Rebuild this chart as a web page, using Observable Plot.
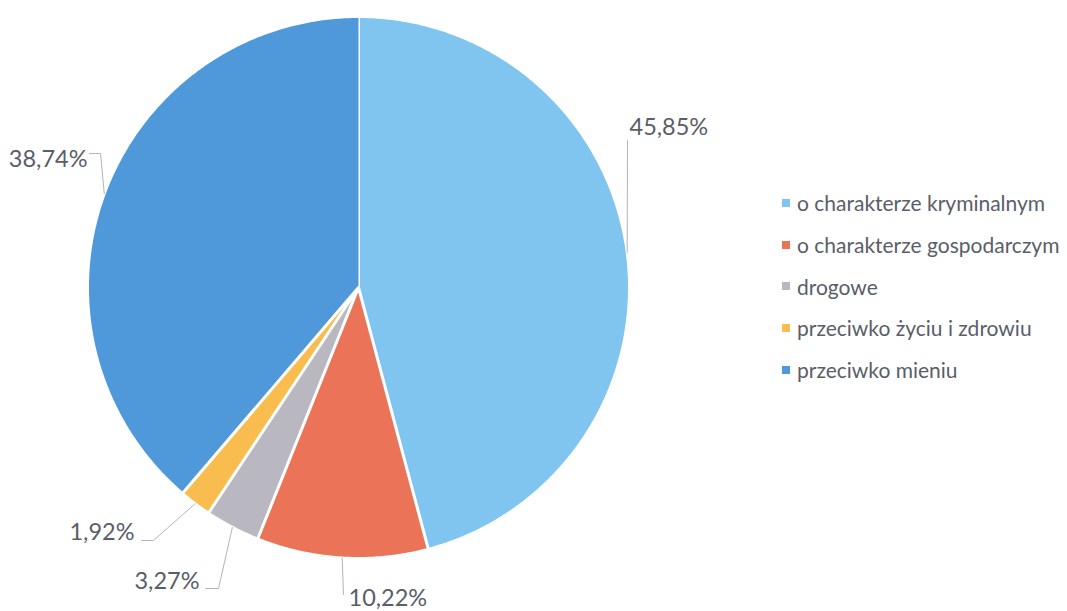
<!DOCTYPE html>
<html><head><meta charset="utf-8">
<script src="https://cdn.jsdelivr.net/npm/d3@7"></script>
<script src="https://cdn.jsdelivr.net/npm/@observablehq/plot@0.6"></script>
<style>
html,body{margin:0;padding:0;background:#fff;}
#wrap{position:relative;width:1067px;height:611px;overflow:hidden;background:#fff;}
#legend{position:absolute;left:782px;top:182px;}
#legend [class$="-swatch"]{height:41.7px !important;padding:0 !important;margin:0 !important;display:flex !important;align-items:center !important;white-space:nowrap;}
#legend svg{margin-right:7px !important;}
</style></head><body><div id="wrap"></div>
<script>
// ---- data ----
const categories = ["o charakterze kryminalnym", "o charakterze gospodarczym", "drogowe", "przeciwko życiu i zdrowiu", "przeciwko mieniu"];
const values = [45.85, 10.22, 3.27, 1.92, 38.74];
const valueLabels = ["45,85%", "10,22%", "3,27%", "1,92%", "38,74%"];
const colors = ["#7fc5ef", "#eb7458", "#b9b8c0", "#f8bd4e", "#4f98d9"];

// ---- layout (pixels) ----
const W = 1067, H = 611, cx = 358, cy = 287, R = 271;
// label placement: elbow points and text anchor (pixel coordinates), per category
const labelLayout = [
  {path: [[627, 140]], text: [629, 127], anchor: "start"},
  {path: [[343, 594]], text: [348, 598], anchor: "start"},
  {path: [[218, 588], [205, 588]], text: [199, 581], anchor: "end"},
  {path: [[153, 540], [141, 540]], text: [134, 532], anchor: "end"},
  {path: [[100, 153], [89, 153]], text: [87, 159], anchor: "end"}
];
const toX = px => (px - cx) / R, toY = py => (cy - py) / R;

// slices as polygons in unit space
const total = d3.sum(values);
const slices = [];
const leaders = [];
const labels = [];
let cum = 0;
values.forEach((v, i) => {
  const a0 = 2 * Math.PI * cum / total, a1 = 2 * Math.PI * (cum + v) / total;
  const n = Math.max(2, Math.ceil((a1 - a0) / (Math.PI / 360)));
  slices.push({cat: categories[i], x: 0, y: 0});
  for (let j = 0; j <= n; j++) {
    const a = a0 + (a1 - a0) * j / n;
    slices.push({cat: categories[i], x: Math.sin(a), y: Math.cos(a)});
  }
  const am = (a0 + a1) / 2;
  leaders.push({id: i, x: Math.sin(am), y: Math.cos(am)});
  labelLayout[i].path.forEach(p => leaders.push({id: i, x: toX(p[0]), y: toY(p[1])}));
  labels.push({text: valueLabels[i], x: toX(labelLayout[i].text[0]), y: toY(labelLayout[i].text[1]), anchor: labelLayout[i].anchor});
  cum += v;
});

const plot = Plot.plot({
  width: W, height: H, margin: 0,
  style: {background: "transparent", fontFamily: "Lato, 'Open Sans', sans-serif"},
  x: {domain: [-1, 1], range: [cx - R, cx + R], axis: null},
  y: {domain: [-1, 1], range: [cy + R, cy - R], axis: null},
  color: {type: "ordinal", domain: categories, range: colors},
  marks: [
    Plot.line(slices, {x: "x", y: "y", z: "cat", fill: "cat", stroke: "#fff", strokeWidth: 3, strokeLinejoin: "round"}),
    Plot.line(leaders, {x: "x", y: "y", z: "id", stroke: "#b4b4bc", strokeWidth: 1}),
    Plot.text(labels.filter(d => d.anchor === "start"), {x: "x", y: "y", text: "text", textAnchor: "start", fontSize: 23.5, fill: "#5a5e68"}),
    Plot.text(labels.filter(d => d.anchor === "end"), {x: "x", y: "y", text: "text", textAnchor: "end", fontSize: 23.5, fill: "#5a5e68"})
  ]
});
const wrap = document.getElementById("wrap");
wrap.appendChild(plot);
const leg = plot.legend("color", {columns: 1, swatchSize: 8, marginLeft: 0, style: {fontFamily: "Lato, 'Open Sans', sans-serif", fontSize: "21px", color: "#5a5e68"}});
leg.id = "legend";
wrap.appendChild(leg);
</script></body></html>
